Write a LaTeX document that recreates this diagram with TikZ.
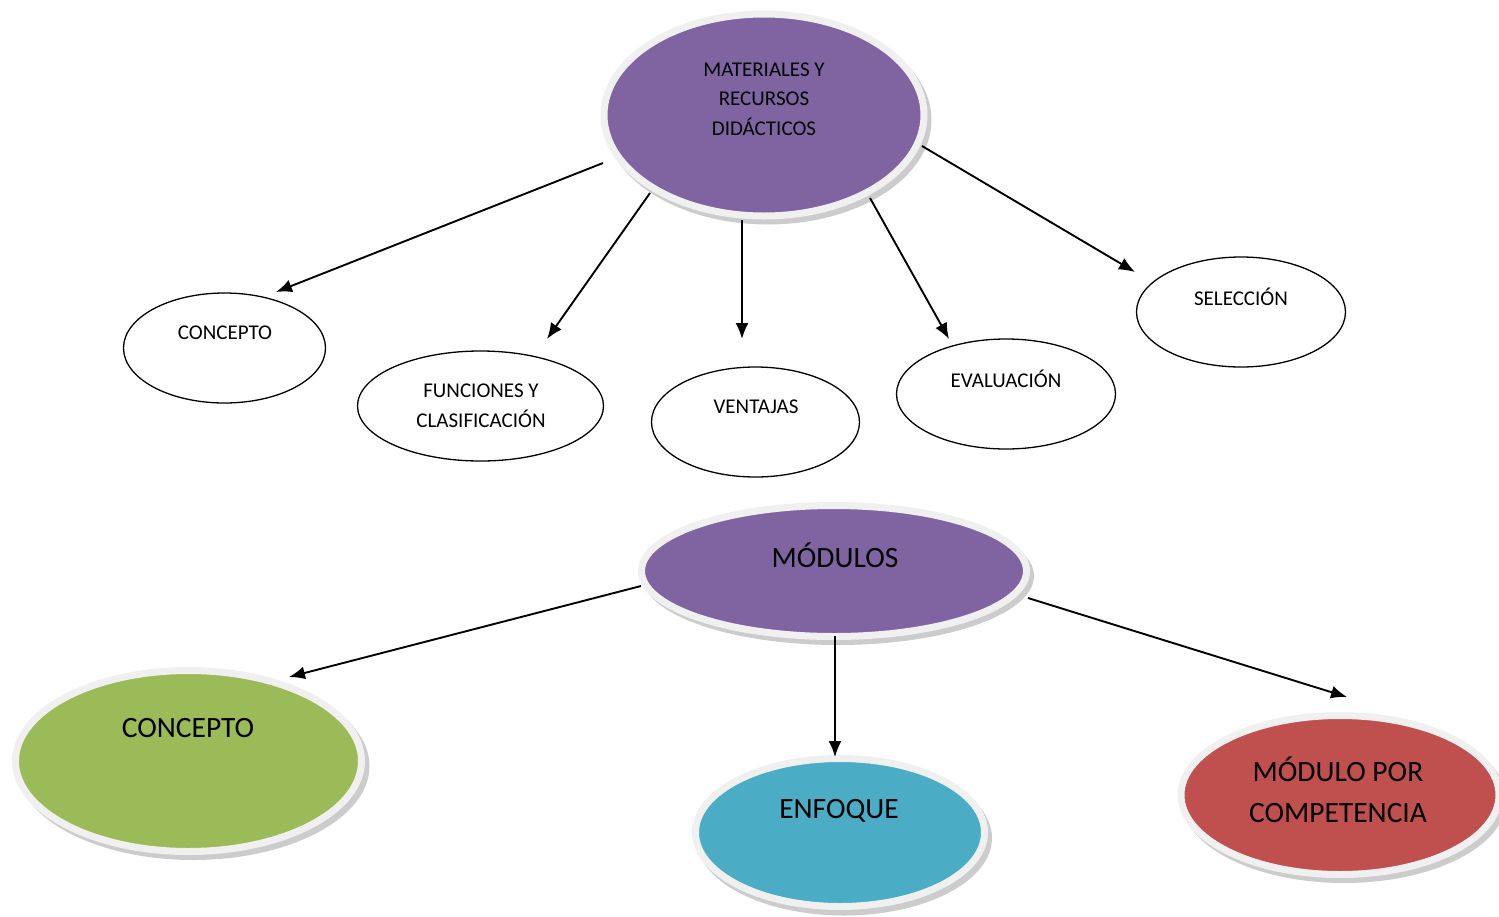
\documentclass[tikz,border=0pt]{standalone}
\usepackage{fontspec}
\setmainfont{Carlito}
\usetikzlibrary{shapes.geometric,arrows.meta}
\definecolor{cpurple}{HTML}{8064A2}
\definecolor{cgreen}{HTML}{9BBB59}
\definecolor{cblue}{HTML}{4BACC6}
\definecolor{cred}{HTML}{C0504D}
\definecolor{rimgrey}{HTML}{F0F0F0}
\tikzset{
  bubble/.style={ellipse, draw=rimgrey, line width=7pt, inner sep=0pt},
  plain/.style={ellipse, draw=black, line width=1.3pt, fill=white, inner sep=0pt, minimum height=110pt},
  smalltxt/.style={font=\fontsize{21}{29.5}\selectfont, align=center, inner sep=0pt},
  bigtxt/.style={font=\fontsize{29.5}{41}\selectfont, align=center, inner sep=0pt},
  arr/.style={line width=1.9pt, -{Latex[length=16pt,width=13pt]}},
  shade/.style={ellipse, fill=black, fill opacity=0.2, draw=none, inner sep=0pt}
}
\begin{document}
\begin{tikzpicture}[x=1pt,y=-1pt]
\useasboundingbox (0,0) rectangle (1499,916);
% shadows
\node[shade, minimum width=327pt, minimum height=209pt] at (768,120) {};
\node[shade, minimum width=392pt, minimum height=138pt] at (838,576) {};
\node[shade, minimum width=353pt, minimum height=188pt] at (193,766) {};
\node[shade, minimum width=296pt, minimum height=155pt] at (844,838) {};
\node[shade, minimum width=325pt, minimum height=166pt] at (1344,800) {};
% colored bubbles
\node[bubble, fill=cpurple, minimum width=320pt, minimum height=202pt] (mat) at (764,115) {};
\node[bubble, fill=cpurple, minimum width=385pt, minimum height=131pt] (mod) at (834,571) {};
\node[bubble, fill=cgreen, minimum width=346pt, minimum height=181pt] (con2) at (188.5,761) {};
\node[bubble, fill=cblue, minimum width=289pt, minimum height=148pt] (enf) at (840,832.5) {};
\node[bubble, fill=cred, minimum width=318pt, minimum height=159pt] (comp) at (1340,795) {};
\node[smalltxt] (mattxt) at (764,99) {MATERIALES Y\\RECURSOS\\DIDÁCTICOS};
\node[bigtxt] (modtxt) at (835,555) {MÓDULOS};
\node[bigtxt] (con2txt) at (188,728) {CONCEPTO};
\node[bigtxt] (enftxt) at (839,811) {ENFOQUE};
\node[bigtxt] (comptxt) at (1338,790) {MÓDULO POR\\COMPETENCIA};
% white ellipses
\node[plain, minimum width=202pt] (con1) at (224.5,348) {};
\node[plain, minimum width=246pt] (fun) at (480.5,406) {};
\node[plain, minimum width=208pt] (ven) at (755.5,422) {};
\node[plain, minimum width=219pt] (eva) at (1006,394) {};
\node[plain, minimum width=209pt] (sel) at (1241,312) {};
\node[smalltxt] (con1txt) at (225,333) {CONCEPTO};
\node[smalltxt] (funtxt) at (481,406) {FUNCIONES Y\\CLASIFICACIÓN};
\node[smalltxt] (ventxt) at (756,407) {VENTAJAS};
\node[smalltxt] (evatxt) at (1006,379) {EVALUACIÓN};
\node[smalltxt] (seltxt) at (1241,297) {SELECCIÓN};
% arrow tips
\coordinate (t1) at (276,292);
\coordinate (t2) at (547,339);
\coordinate (t3) at (742,339);
\coordinate (t4) at (949,339);
\coordinate (t5) at (1135,272);
\coordinate (t6) at (289,677);
\coordinate (t7) at (835,757);
\coordinate (t8) at (1347,697);
\coordinate (s1) at (603,163);
\coordinate (s2) at (650,193);
\coordinate (s3) at (742,220);
\coordinate (s4) at (870,198);
\coordinate (s5) at (922,146);
\coordinate (s6) at (641,586);
\coordinate (s7) at (835,636);
\coordinate (s8) at (1028,598);
\draw[arr] (s1) -- (t1);
\draw[arr] (s2) -- (t2);
\draw[arr] (s3) -- (t3);
\draw[arr] (s4) -- (t4);
\draw[arr] (s5) -- (t5);
\draw[arr] (s6) -- (t6);
\draw[arr] (s7) -- (t7);
\draw[arr] (s8) -- (t8);
\end{tikzpicture}
\end{document}
